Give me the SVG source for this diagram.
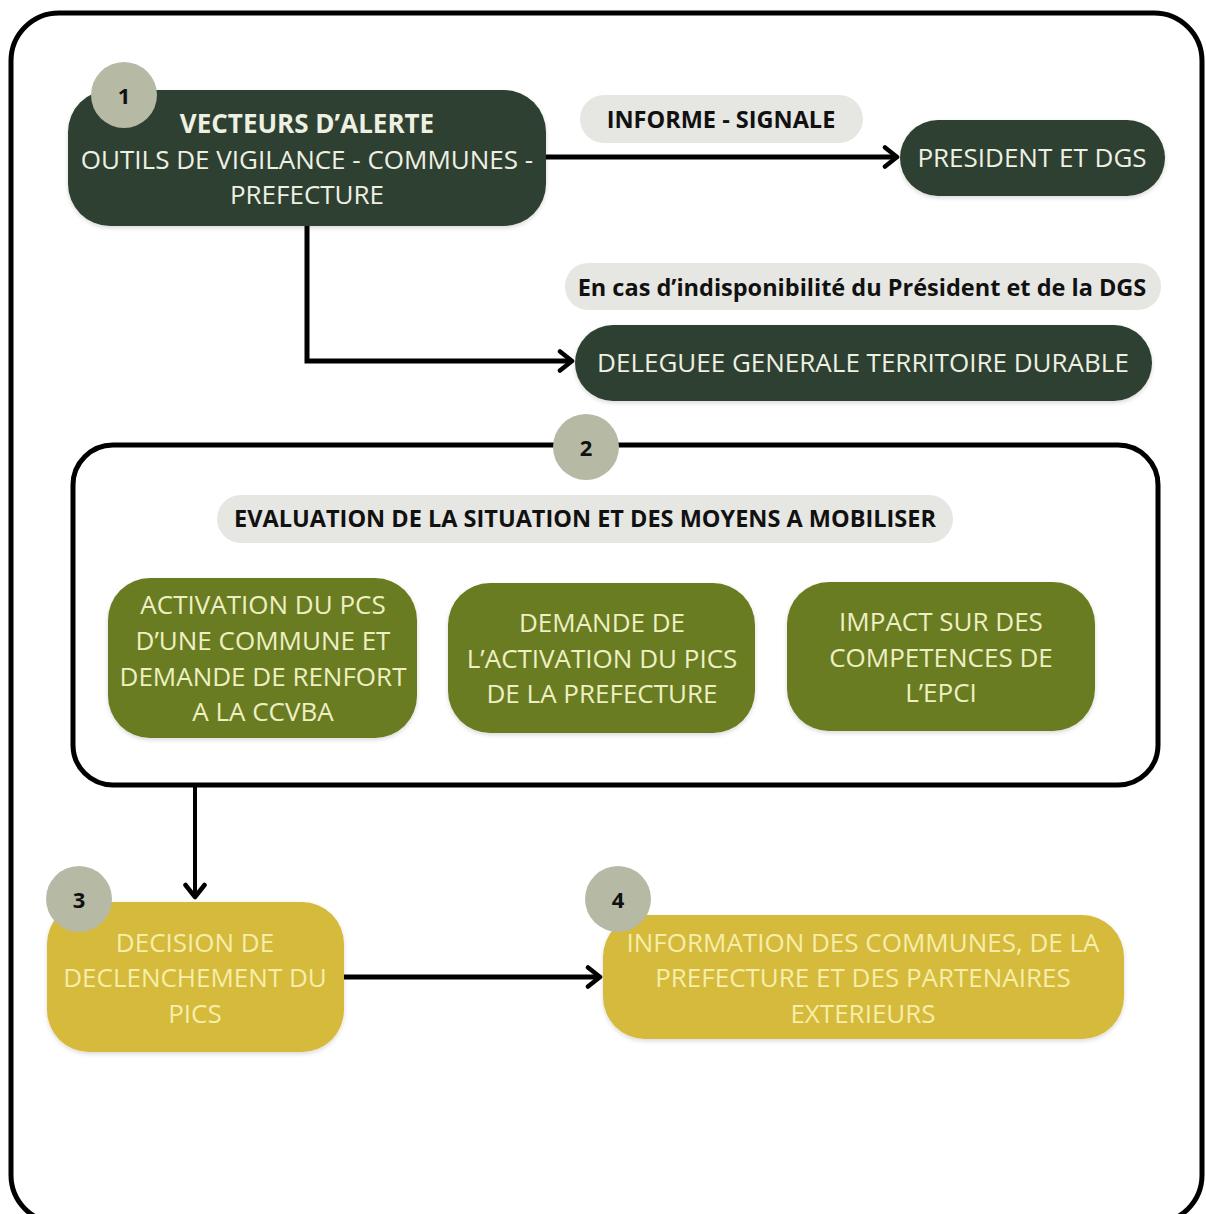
<svg xmlns="http://www.w3.org/2000/svg" width="1206" height="1214" viewBox="0 0 1206 1214">
<defs>
<marker id="chev" viewBox="0 0 18 24" refX="15" refY="12" markerWidth="18" markerHeight="24" markerUnits="userSpaceOnUse" orient="auto">
<path d="M3 2.5 L15 12 L3 21.5" fill="none" stroke="#000" stroke-width="4.5" stroke-linecap="round" stroke-linejoin="round"/>
</marker>
<filter id="sh" x="-10%" y="-10%" width="120%" height="130%">
<feDropShadow dx="0" dy="2" stdDeviation="2" flood-color="#000" flood-opacity="0.15"/>
</filter>
</defs>
<style>
text{font-family:"Open Sans","Liberation Sans",sans-serif;text-anchor:middle;dominant-baseline:central}
.dark{fill:#2d4130}
.olive{fill:#6b7c24}
.gold{fill:#d5ba3a}
.pill{fill:#e6e6e2}
.badge{fill:#b6b9a4}
.wt{fill:#eef0e2;font-size:26px}
.ot{fill:#eef0c4;font-size:26px}
.gt{fill:#f6eeaa;font-size:26px}
.lbl{fill:#111;font-size:23.5px;font-weight:bold}
.num{fill:#111;font-size:22px;font-weight:bold}
.frame{fill:none;stroke:#000;stroke-width:5}
.conn{fill:none;stroke:#000;stroke-width:5}
</style>
<rect width="1206" height="1214" fill="#fff"/>
<rect class="frame" x="11" y="13" width="1191" height="1210" rx="48"/>

<g id="connectors">
<path class="conn" d="M546 157 H897" marker-end="url(#chev)"/>
<path class="conn" d="M307 226 V361 H572" marker-end="url(#chev)"/>
<path class="conn" d="M195 785 V897" marker-end="url(#chev)" style="stroke-width:4"/>
<path class="conn" d="M344 977 H600" marker-end="url(#chev)"/>
</g>

<g id="node1">
<rect class="dark" x="68" y="90" width="478" height="136" rx="42" filter="url(#sh)"/>
<circle class="badge" cx="124" cy="95" r="33"/>
<text class="num" x="124" y="95">1</text>
<text class="wt" x="307" y="123" font-weight="bold">VECTEURS D’ALERTE</text>
<text class="wt" x="307" y="159">OUTILS DE VIGILANCE - COMMUNES -</text>
<text class="wt" x="307" y="194">PREFECTURE</text>
</g>

<g id="label-informe">
<rect class="pill" x="580" y="95" width="283" height="48" rx="24"/>
<text class="lbl" x="721" y="119">INFORME - SIGNALE</text>
</g>

<g id="node-president">
<rect class="dark" x="900" y="120" width="265" height="76" rx="38" filter="url(#sh)"/>
<text class="wt" x="1032" y="157">PRESIDENT ET DGS</text>
</g>

<g id="label-indispo">
<rect class="pill" x="565" y="263" width="596" height="47" rx="23"/>
<text class="lbl" x="862" y="287">En cas d’indisponibilité du Président et de la DGS</text>
</g>

<g id="node-deleguee">
<rect class="dark" x="575" y="325" width="577" height="76" rx="38" filter="url(#sh)"/>
<text class="wt" x="863" y="362">DELEGUEE GENERALE TERRITOIRE DURABLE</text>
</g>

<g id="group2">
<rect class="frame" x="73" y="445" width="1085" height="340" rx="40"/>
<circle class="badge" cx="586" cy="447" r="33"/>
<text class="num" x="586" y="447">2</text>
</g>

<g id="label-evaluation">
<rect class="pill" x="217" y="495" width="736" height="48" rx="24"/>
<text class="lbl" x="585" y="518">EVALUATION DE LA SITUATION ET DES MOYENS A MOBILISER</text>
</g>

<g id="node-activation">
<rect class="olive" x="108" y="578" width="309" height="160" rx="42" filter="url(#sh)"/>
<text class="ot" x="263" y="604">ACTIVATION DU PCS</text>
<text class="ot" x="263" y="640">D’UNE COMMUNE ET</text>
<text class="ot" x="263" y="676">DEMANDE DE RENFORT</text>
<text class="ot" x="263" y="711">A LA CCVBA</text>
</g>

<g id="node-demande">
<rect class="olive" x="448" y="583" width="307" height="150" rx="42" filter="url(#sh)"/>
<text class="ot" x="602" y="622">DEMANDE DE</text>
<text class="ot" x="602" y="658">L’ACTIVATION DU PICS</text>
<text class="ot" x="602" y="693">DE LA PREFECTURE</text>
</g>

<g id="node-impact">
<rect class="olive" x="787" y="582" width="308" height="149" rx="42" filter="url(#sh)"/>
<text class="ot" x="941" y="621">IMPACT SUR DES</text>
<text class="ot" x="941" y="657">COMPETENCES DE</text>
<text class="ot" x="941" y="692">L’EPCI</text>
</g>

<g id="node3">
<rect class="gold" x="47" y="902" width="297" height="150" rx="42" filter="url(#sh)"/>
<circle class="badge" cx="79" cy="899" r="33"/>
<text class="num" x="79" y="899">3</text>
<text class="gt" x="195" y="942">DECISION DE</text>
<text class="gt" x="195" y="977">DECLENCHEMENT DU</text>
<text class="gt" x="195" y="1013">PICS</text>
</g>

<g id="node4">
<rect class="gold" x="603" y="915" width="521" height="124" rx="42" filter="url(#sh)"/>
<circle class="badge" cx="618" cy="899" r="33"/>
<text class="num" x="618" y="899">4</text>
<text class="gt" x="863" y="942">INFORMATION DES COMMUNES, DE LA</text>
<text class="gt" x="863" y="977">PREFECTURE ET DES PARTENAIRES</text>
<text class="gt" x="863" y="1013">EXTERIEURS</text>
</g>
</svg>
